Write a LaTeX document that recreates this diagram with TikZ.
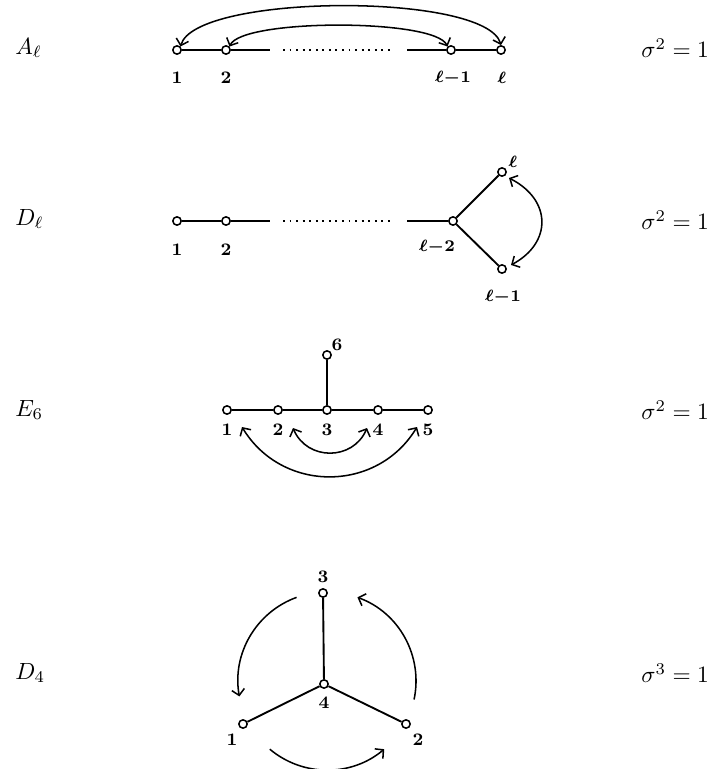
\documentclass[tikz,border=0pt]{standalone}
\usepackage{tikz}
\usetikzlibrary{arrows.meta}
\usepackage{amsmath,amssymb}

\begin{document}
\begin{tikzpicture}[x=0.015cm,y=-0.015cm,
    >={Straight Barb[length=0.9mm,width=1.9mm]},
    vertex/.style={circle,draw,fill=white,inner sep=0pt,minimum size=1.25mm,line width=0.65pt},
    numlbl/.style={font=\fontsize{7.5}{9}\selectfont\bfseries\boldmath},
    rowlbl/.style={anchor=west},
    bond/.style={line width=0.8pt},
    turn/.style={line width=0.65pt}]
  \useasboundingbox (0,0) rectangle (708,769);

  % A_l
  \node[rowlbl] (ta) at (7,48) {$A_\ell$};
  \node[rowlbl] (sa) at (633,48) {$\sigma^2 = 1$};
  \node[vertex] (a1) at (177,50) {};
  \node[vertex] (a2) at (226,50) {};
  \node[vertex] (a3) at (451,50) {};
  \node[vertex] (a4) at (501,50) {};
  \coordinate (a2e) at (270,50);
  \coordinate (a3w) at (407,50);
  \coordinate (ad1) at (283,50);
  \coordinate (ad2) at (390,50);
  \draw[bond] (a1) -- (a2) -- (a2e);
  \draw[bond] (a3w) -- (a3) -- (a4);
  \draw[dotted,thick] (ad1) -- (ad2);
  \node[numlbl] (la1) at (177,78) {1};
  \node[numlbl] (la2) at (226,78) {2};
  \node[numlbl] (la3) at (453,78) {$\ell{-}1$};
  \node[numlbl] (la4) at (502,78) {$\ell$};
  \draw[turn,<->] (a1.north east) .. controls +(15,-53) and +(-15,-53) .. (a4.north);
  \draw[turn,<->] (a2.north east) .. controls +(13,-28) and +(-13,-28) .. (a3.north west);

  % D_l
  \node[rowlbl] (td) at (7,219) {$D_\ell$};
  \node[rowlbl] (sd) at (633,220) {$\sigma^2 = 1$};
  \node[vertex] (d1) at (177,221) {};
  \node[vertex] (d2) at (226,221) {};
  \node[vertex] (d3) at (453,221) {};
  \node[vertex] (d4) at (502,172) {};
  \node[vertex] (d5) at (502,269) {};
  \coordinate (d2e) at (270,221);
  \coordinate (d3w) at (407,221);
  \coordinate (dd1) at (283,221);
  \coordinate (dd2) at (390,221);
  \draw[bond] (d1) -- (d2) -- (d2e);
  \draw[bond] (d3w) -- (d3);
  \draw[bond] (d3) -- (d4);
  \draw[bond] (d3) -- (d5);
  \draw[dotted,thick] (dd1) -- (dd2);
  \node[numlbl] (ld1) at (177,250) {1};
  \node[numlbl] (ld2) at (226,250) {2};
  \node[numlbl] (ld3) at (437,247) {$\ell{-}2$};
  \node[numlbl] (ld4) at (513,162) {$\ell$};
  \node[numlbl] (ld5) at (503,297) {$\ell{-}1$};
  \draw[turn,<->] ([shift={(7,6)}]d4.center) .. controls +(43,22) and +(41,-22) .. ([shift={(9,-4)}]d5.center);

  % E_6
  \node[rowlbl] (te) at (7,410) {$E_6$};
  \node[rowlbl] (se) at (633,410) {$\sigma^2 = 1$};
  \node[vertex] (e1) at (227,410) {};
  \node[vertex] (e2) at (278,410) {};
  \node[vertex] (e3) at (327,410) {};
  \node[vertex] (e4) at (378,410) {};
  \node[vertex] (e5) at (428,410) {};
  \node[vertex] (e6) at (327,355) {};
  \draw[bond] (e1) -- (e2) -- (e3) -- (e4) -- (e5);
  \draw[bond] (e3) -- (e6);
  \node[numlbl] (le1) at (227,430) {1};
  \node[numlbl] (le2) at (278,430) {2};
  \node[numlbl] (le3) at (327,430) {3};
  \node[numlbl] (le4) at (378,430) {4};
  \node[numlbl] (le5) at (428,430) {5};
  \node[numlbl] (le6) at (337,345) {6};
  \draw[turn,<->] ([shift={(15,-3)}]le1.center) .. controls +(40,66) and +(-40,66) .. ([shift={(-11,-3)}]le5.center);
  \draw[turn,<->] ([shift={(15,-2)}]le2.center) .. controls +(14,33) and +(-14,33) .. ([shift={(-11,-2)}]le4.center);

  % D_4
  \node[rowlbl] (tf) at (7,673) {$D_4$};
  \node[rowlbl] (sf) at (633,673) {$\sigma^3 = 1$};
  \node[vertex] (f4) at (324,684) {};
  \node[vertex] (f3) at (323,593) {};
  \node[vertex] (f1) at (243,724) {};
  \node[vertex] (f2) at (406,724) {};
  \draw[bond] (f4) -- (f3);
  \draw[bond] (f4) -- (f1);
  \draw[bond] (f4) -- (f2);
  \node[numlbl] (lf3) at (323,577) {3};
  \node[numlbl] (lf4) at (324,703) {4};
  \node[numlbl] (lf1) at (232,740) {1};
  \node[numlbl] (lf2) at (418,740) {2};
  \coordinate (fc) at (327,681);
  \draw[turn,->] ([shift={(-110:89)}]fc) arc[start angle=-110,end angle=-190,radius=89];
  \draw[turn,->] ([shift={(12:89)}]fc) arc[start angle=12,end angle=-70,radius=89];
  \draw[turn,->] ([shift={(-230:89)}]fc) arc[start angle=-230,end angle=-310,radius=89];
\end{tikzpicture}
\end{document}
